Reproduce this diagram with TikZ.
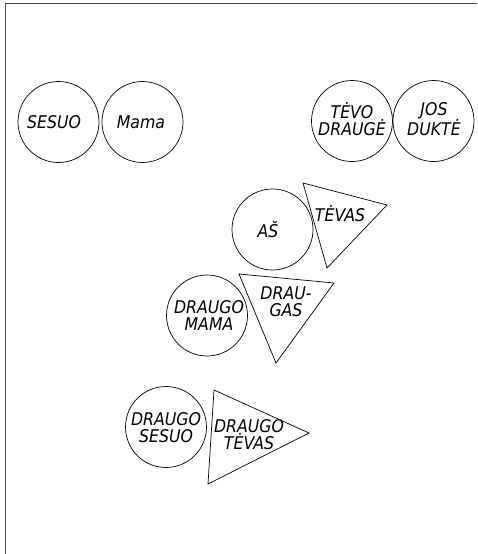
\documentclass[tikz,border=0pt]{standalone}
\usepackage{fontspec}
\setmainfont[FakeStretch=0.9]{DejaVu Sans}
\begin{document}
\begin{tikzpicture}[x=1pt,y=-1pt,
  person/.style={circle,draw,line width=0.7pt,minimum size=81pt,inner sep=0pt},
  lbl/.style={font=\fontsize{17.5}{17}\selectfont\itshape,align=center,inner sep=0pt},
  tri/.style={draw,line width=0.7pt,line join=miter}]
\useasboundingbox (0,0) rectangle (477,554);
\draw[line width=1.6pt,black!70] (5.5,554) -- (5.5,3.5) -- (477,3.5);
% circles
\node[person] (sesuo) at (58.5,122) {};
\node[person] (mama) at (142.5,122) {};
\node[person] (tevodr) at (352,121) {};
\node[person] (josdukte) at (433.5,121) {};
\node[person] (as) at (272.5,229.5) {};
\node[person] (drmama) at (207,315.5) {};
\node[person] (drsesuo) at (166,427) {};
% triangles
\coordinate (t1a) at (303,183);
\coordinate (t1b) at (387,205);
\coordinate (t1c) at (327,268);
\draw[tri] (t1a) -- (t1b) -- (t1c) -- cycle;
\coordinate (t2a) at (239,274);
\coordinate (t2b) at (334,283);
\coordinate (t2c) at (276,363);
\draw[tri] (t2a) -- (t2b) -- (t2c) -- cycle;
\coordinate (t3a) at (214,390);
\coordinate (t3b) at (309,433);
\coordinate (t3c) at (208,484);
\draw[tri] (t3a) -- (t3b) -- (t3c) -- cycle;
% labels
\node[lbl] (lsesuo) at (54,122) {SESUO};
\node[lbl] (lmama) at (141,122) {Mama};
\node[lbl] (ltevodr) at (352,119) {TĖVO\\DRAUGĖ};
\node[lbl] (ljos) at (434,119) {JOS\\DUKTĖ};
\node[lbl] (las) at (268,229) {AŠ};
\node[lbl] (ltevas) at (340,214) {TĖVAS};
\node[lbl] (ldraugas) at (286,302) {DRAU-\\GAS};
\node[lbl] (ldrmama) at (209,316) {DRAUGO\\MAMA};
\node[lbl] (ldrsesuo) at (166,428) {DRAUGO\\SESUO};
\node[lbl] (ldrtevas) at (249,435) {DRAUGO\\TĖVAS};
\end{tikzpicture}
\end{document}
